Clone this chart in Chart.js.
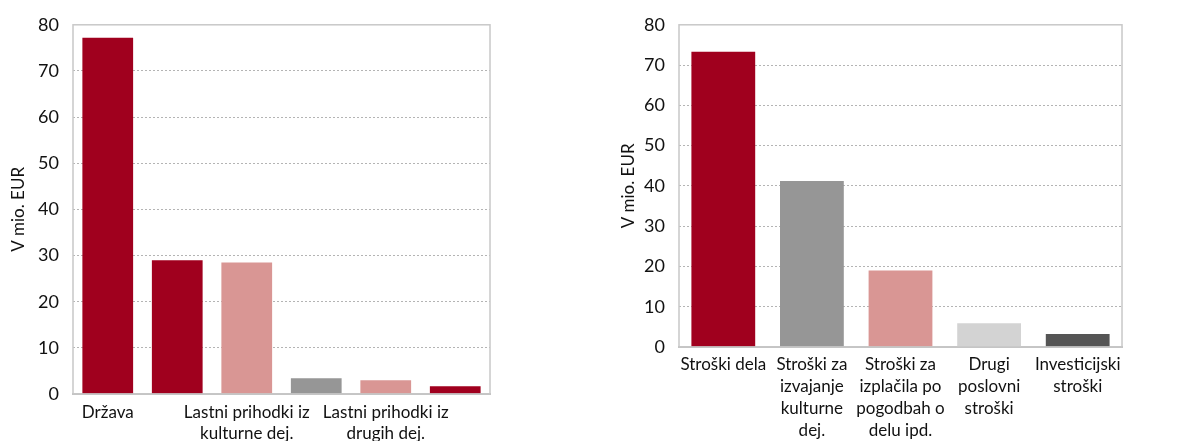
<!DOCTYPE html>
<html>
<head>
<meta charset="utf-8">
<script src="https://cdn.jsdelivr.net/npm/chart.js@4"></script>
<style>
  body { margin: 0; background: #fff; }
  .box { position: absolute; top: 0; height: 441px; }
</style>
</head>
<body>
<div class="box" style="left:0;width:500px"><canvas id="chartLeft"></canvas></div>
<div class="box" style="left:600px;width:530px"><canvas id="chartRight"></canvas></div>
<script>
// viri financiranja (levi graf)
var viriLabels = [['Država'], [''], ['Lastni prihodki iz', 'kulturne dej.'], [''], ['Lastni prihodki iz', 'drugih dej.'], ['']];
var viriValues = [77.2, 29.0, 28.5, 3.4, 3.0, 1.7];
var viriColors = ['#a0001e', '#a0001e', '#d99694', '#969696', '#d99694', '#a0001e'];

// stroski (desni graf)
var stroskiLabels = [['Stroški dela'], ['Stroški za', 'izvajanje', 'kulturne', 'dej.'], ['Stroški za', 'izplačila po', 'pogodbah o', 'delu ipd.'], ['Drugi', 'poslovni', 'stroški'], ['Investicijski', 'stroški']];
var stroskiValues = [73.3, 41.2, 19.0, 5.9, 3.2];
var stroskiColors = ['#a0001e', '#969696', '#d99694', '#d3d3d3', '#555555'];

var yTicks = [0, 10, 20, 30, 40, 50, 60, 70, 80];
var yTitle = 'V mio. EUR';

Chart.defaults.font.family = 'Lato';
Chart.defaults.font.size = 17;
Chart.defaults.color = '#111';

// okvir okoli grafa
var frame = {
  id: 'frame',
  afterDraw: function(chart) {
    var a = chart.chartArea, c = chart.ctx;
    c.save();
    c.strokeStyle = '#c8c8c8';
    c.lineWidth = 1.5;
    c.strokeRect(a.left, a.top, a.right - a.left, a.bottom - a.top);
    c.restore();
  }
};

function makeChart(id, labels, values, colors, opt) {
  var ctx = document.getElementById(id).getContext('2d');
  return new Chart(ctx, {
    type: 'bar',
    data: {
      labels: labels,
      datasets: [{
        data: values,
        backgroundColor: colors,
        barPercentage: opt.bar,
        categoryPercentage: 1
      }]
    },
    options: {
      responsive: true,
      maintainAspectRatio: false,
      animation: false,
      layout: { padding: { top: opt.top, right: opt.right, left: 0, bottom: 0 } },
      plugins: { legend: { display: false }, tooltip: { enabled: false } },
      scales: {
        x: {
          grid: { display: false, drawTicks: false },
          border: { color: '#bfbfbf', width: 2 },
          ticks: { autoSkip: false, maxRotation: 0, minRotation: 0, padding: opt.xpad, font: { size: 17, lineHeight: opt.lh } },
          afterFit: function(s) { s.height = opt.xh; }
        },
        y: {
          min: 0, max: 80,
          afterBuildTicks: function(s) { s.ticks = yTicks.map(function(v) { return { value: v }; }); },
          grid: {
            color: function(c) { return (c.tick.value == 0 || c.tick.value == 80) ? 'rgba(0,0,0,0)' : '#b4b4b4'; },
            drawTicks: false,
            lineWidth: 1
          },
          border: { display: false, dash: [2, 2] },
          ticks: { padding: 14, font: { size: 18 } },
          title: { display: true, text: yTitle, font: { size: 17 }, padding: { top: opt.tpad, bottom: 0 } },
          afterFit: function(s) { s.width = opt.yw; }
        }
      }
    },
    plugins: [frame]
  });
}

var left = makeChart('chartLeft', viriLabels, viriValues, viriColors, { bar: 0.73, top: 21, right: 10, xh: 47, yw: 73, xpad: 8, tpad: 8, lh: 1.25 });
var right = makeChart('chartRight', stroskiLabels, stroskiValues, stroskiColors, { bar: 0.72, top: 23, right: 8, xh: 94, yw: 79, xpad: 6, tpad: 18, lh: 1.3 });
</script>
</body>
</html>
